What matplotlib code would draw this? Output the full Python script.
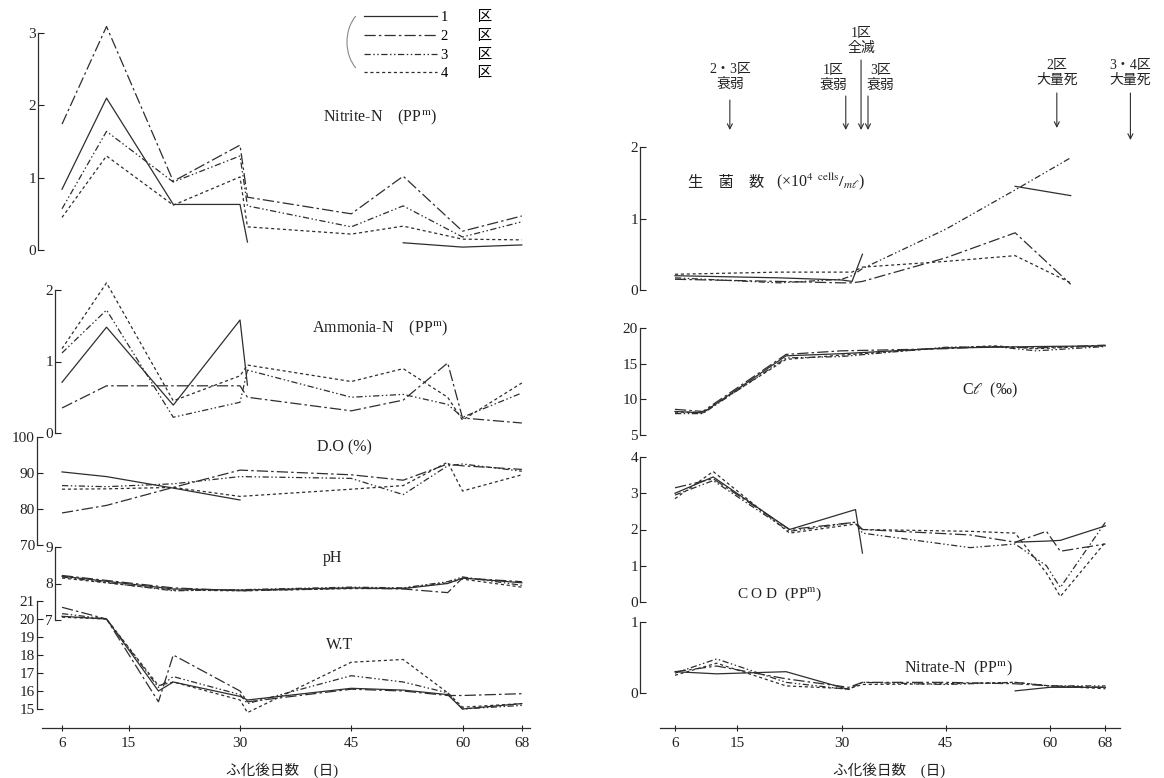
import numpy as np
import matplotlib
matplotlib.use('Agg')
import matplotlib.pyplot as plt
from matplotlib.lines import Line2D
from matplotlib.patches import Arc
from matplotlib.transforms import IdentityTransform, blended_transform_factory

plt.rcParams['font.family'] = ['Liberation Serif', 'Noto Sans CJK JP', 'DejaVu Sans']
plt.rcParams['mathtext.fontset'] = 'stix'

nan = np.nan
W, H = 1164, 778
INK = '#2e2e2e'

# ---- 左側 (ふ化後日数) ----
tick_days = [6, 15, 30, 45, 60, 68]

nitrite_days = [6, 12, 21, 30, 31, 45, 52, 60, 68]
nitrite_1 = [0.84, 2.10, 0.63, 0.63, 0.11, nan, 0.10, 0.04, 0.07]
nitrite_2 = [1.74, 3.09, 0.95, 1.45, 0.73, 0.50, 1.02, 0.26, 0.47]
nitrite_3 = [0.57, 1.64, 0.94, 1.30, 0.61, 0.32, 0.61, 0.18, 0.39]
nitrite_4 = [0.45, 1.30, 0.62, 1.01, 0.32, 0.22, 0.33, 0.15, 0.14]

ammonia_days = [6, 12, 21, 30, 31, 45, 52, 58, 60, 68]
ammonia_1 = [0.71, 1.48, 0.39, 1.58, 0.67, nan, nan, nan, nan, nan]
ammonia_2 = [0.35, 0.66, 0.66, 0.66, 0.50, 0.31, 0.46, 0.98, 0.21, 0.14]
ammonia_3 = [1.12, 1.72, 0.22, 0.43, 0.88, 0.50, 0.54, 0.40, 0.22, 0.56]
ammonia_4 = [1.18, 2.10, 0.45, 0.80, 0.95, 0.72, 0.90, 0.50, 0.18, 0.70]

do_days = [6, 12, 21, 30, 45, 52, 58, 60, 68]
do_1 = [90.3, 89.0, 85.8, 82.5, nan, nan, nan, nan, nan]
do_2 = [78.9, 81.0, 86.0, 90.8, 89.5, 88.0, 92.5, 92.0, 91.0]
do_3 = [86.5, 86.2, 87.0, 89.0, 88.5, 84.0, 92.0, 92.5, 90.5]
do_4 = [85.5, 85.6, 86.0, 83.5, 85.5, 86.5, 93.0, 85.0, 89.5]

ph_days = [6, 21, 30, 45, 52, 58, 60, 68]
ph_1 = [8.20, 7.85, 7.82, 7.88, 7.86, 8.00, 8.15, 8.02]
ph_2 = [8.22, 7.88, 7.80, 7.87, 7.85, 7.75, 8.15, 8.05]
ph_3 = [8.18, 7.80, 7.83, 7.90, 7.88, 8.05, 8.18, 7.95]
ph_4 = [8.15, 7.82, 7.80, 7.86, 7.87, 8.02, 8.12, 7.90]

wt_days = [6, 12, 19, 21, 30, 31, 45, 52, 58, 60, 68]
wt_1 = [20.15, 20.0, 16.0, 16.5, 15.7, 15.5, 16.15, 16.05, 15.8, 15.0, 15.3]
wt_2 = [20.65, 20.0, 15.4, 18.0, 16.0, 15.4, 16.10, 16.00, 15.75, 15.75, 15.85]
wt_3 = [20.3, 20.0, 16.2, 16.8, 15.8, 15.3, 16.85, 16.5, 15.9, 15.0, 15.2]
wt_4 = [20.1, 20.0, 16.3, 16.5, 15.5, 14.8, 17.6, 17.75, 15.9, 15.1, 15.3]

# ---- 右側 ----
bact_days = [6, 21, 30, 31.5, 33, 45, 55, 63]
bact_1 = [0.20, 0.17, 0.14, 0.12, 0.50, nan, 1.45, 1.32]
bact_2 = [0.15, 0.12, 0.10, 0.10, 0.12, 0.45, 0.80, 0.08]
bact_3 = [0.17, 0.10, 0.15, 0.20, 0.30, 0.85, 1.40, 1.85]
bact_4 = [0.22, 0.25, 0.25, 0.25, 0.32, 0.40, 0.48, 0.10]

cl_days = [6, 10, 22, 30, 45, 52, 58, 68]
cl_1 = [8.3, 8.1, 16.1, 16.4, 17.2, 17.3, 17.4, 17.5]
cl_2 = [8.6, 8.3, 16.3, 16.8, 17.1, 17.4, 17.2, 17.6]
cl_3 = [8.0, 8.0, 15.8, 16.0, 17.3, 17.4, 16.8, 17.4]
cl_4 = [8.2, 8.2, 15.6, 16.2, 17.2, 17.5, 17.1, 17.5]

cod_days = [6, 11.5, 22.5, 32, 33, 48.5, 55, 59.5, 61.5, 68]
cod_1 = [3.00, 3.45, 2.00, 2.55, 1.35, nan, 1.65, 1.68, 1.70, 2.10]
cod_2 = [3.15, 3.40, 2.00, 2.20, 2.00, 1.85, 1.65, 1.95, 1.40, 1.60]
cod_3 = [2.95, 3.35, 1.95, 2.20, 1.90, 1.50, 1.60, 1.00, 0.40, 2.20]
cod_4 = [2.85, 3.60, 1.90, 2.15, 2.00, 1.95, 1.90, 0.80, 0.15, 1.65]

nitrate_days = [6, 12, 22, 31, 33, 45, 55, 60, 68]
nitrate_1 = [0.30, 0.27, 0.30, 0.05, nan, nan, 0.03, 0.08, 0.08]
nitrate_2 = [0.30, 0.38, 0.20, 0.08, 0.15, 0.15, 0.13, 0.10, 0.08]
nitrate_3 = [0.28, 0.48, 0.15, 0.05, 0.15, 0.12, 0.15, 0.10, 0.10]
nitrate_4 = [0.25, 0.42, 0.10, 0.06, 0.12, 0.13, 0.15, 0.10, 0.06]

# 斃死・衰弱の記録 (日, 注記)
event_days = [13.9, 30.6, 32.8, 33.8, 61.0, 71.6]
event_labels = ['2・3区\n衰弱', '1区\n衰弱', '1区\n全滅', '3区\n衰弱',
                '2区\n大量死', '3・4区\n大量死']

styles = ['-', (0, (9, 2.5, 2, 2.5)), (0, (5, 2, 1.2, 2, 1.2, 2)), (0, (2.5, 2.2))]
area_names = ['1', '2', '3', '4']

fig = plt.figure(figsize=(W / 100, H / 100), dpi=100)
fig.patch.set_facecolor('white')


def box(x0, y0, x1, y1):
    # pixel box -> figure fraction
    return [x0 / W, 1 - y1 / H, (x1 - x0) / W, (y1 - y0) / H]


def ftext(x, y, s, **kw):
    kw.setdefault('fontsize', 10.5)
    kw.setdefault('color', '#222')
    kw.setdefault('ha', 'center')
    kw.setdefault('va', 'center')
    return fig.text(x / W, 1 - y / H, s, **kw)


def panel(x0, x1, y_top, y_bot, xlim, ylim, yticks, spine_px, days, series):
    ax = fig.add_axes(box(x0, y_top, x1, y_bot))
    ax.patch.set_alpha(0)
    ax.set_xlim(xlim)
    ax.set_ylim(ylim)
    for s in ['top', 'right', 'bottom']:
        ax.spines[s].set_visible(False)
    ax.spines['left'].set_position(('axes', (spine_px - x0) / (x1 - x0)))
    ax.spines['left'].set_linewidth(0.9)
    ax.spines['left'].set_color(INK)
    ax.set_xticks([])
    ax.set_yticks(yticks)
    ax.tick_params(axis='y', direction='in', length=4, width=0.8, pad=1.5,
                   labelsize=11, colors='#222')
    for vals, st in zip(series, styles):
        ax.plot(days, vals, ls=st, color=INK, lw=0.9, clip_on=False)
    return ax


def bottom_axis(x0, x1, y, xlim):
    ax = fig.add_axes(box(x0, y - 10, x1, y))
    ax.patch.set_alpha(0)
    ax.set_xlim(xlim)
    for s in ['top', 'right', 'left']:
        ax.spines[s].set_visible(False)
    ax.spines['bottom'].set_linewidth(0.9)
    ax.spines['bottom'].set_color(INK)
    ax.set_yticks([])
    ax.set_xticks(tick_days)
    ax.tick_params(axis='x', direction='inout', length=5, width=0.8, pad=4,
                   labelsize=11, colors='#222')
    return ax


# 左列
LX = (42, 530)
LLIM = (3.3, 69.1)
panel(*LX, 33, 250, LLIM, (0, 3), [0, 1, 2, 3], 38, nitrite_days,
      [nitrite_1, nitrite_2, nitrite_3, nitrite_4])
panel(*LX, 290, 433, LLIM, (0, 2), [0, 1, 2], 55, ammonia_days,
      [ammonia_1, ammonia_2, ammonia_3, ammonia_4])
panel(*LX, 437, 545, LLIM, (70, 100), [70, 80, 90, 100], 37, do_days,
      [do_1, do_2, do_3, do_4])
panel(*LX, 547, 620, LLIM, (7, 9), [7, 8, 9], 55, ph_days,
      [ph_1, ph_2, ph_3, ph_4])
panel(*LX, 601, 709, LLIM, (15, 21), list(range(15, 22)), 37, wt_days,
      [wt_1, wt_2, wt_3, wt_4])
bottom_axis(*LX, 728, LLIM)

# 右列
RX = (660, 1120)
RLIM = (3.84, 70.1)
ax_b = panel(*RX, 147, 290, RLIM, (0, 2), [0, 1, 2], 640, bact_days,
             [bact_1, bact_2, bact_3, bact_4])
panel(*RX, 328, 435, RLIM, (5, 20), [5, 10, 15, 20], 640, cl_days,
      [cl_1, cl_2, cl_3, cl_4])
panel(*RX, 457, 602, RLIM, (0, 4), [0, 1, 2, 3, 4], 640, cod_days,
      [cod_1, cod_2, cod_3, cod_4])
panel(*RX, 622, 693, RLIM, (0, 1), [0, 1], 640, nitrate_days,
      [nitrate_1, nitrate_2, nitrate_3, nitrate_4])
bottom_axis(*RX, 728, RLIM)

# 項目名
ftext(380, 117, 'Nitrite-N    (PP$^{\\mathrm{m}}$)', fontsize=11.5)
ftext(380, 328, 'Ammonia-N    (PP$^{\\mathrm{m}}$)', fontsize=11.5)
ftext(344, 447, 'D.O (%)', fontsize=11.5)
ftext(333, 558, 'pH', fontsize=11.5)
ftext(340, 645, 'W.T', fontsize=11.5)
ftext(726, 183, '生　菌　数', fontsize=11)
ftext(820, 182, '(×10$^{4}$ $^{\\mathrm{cells}}/_{m\\ell}$)', fontsize=11.5)
ftext(990, 390, 'C$\\ell$  (‰)', fontsize=11.5)
ftext(780, 594, 'C O D  (PP$^{\\mathrm{m}}$)', fontsize=11)
ftext(958, 668, 'Nitrate-N  (PP$^{\\mathrm{m}}$)', fontsize=11.5)
ftext(282, 770, 'ふ化後日数　(日)')
ftext(889, 770, 'ふ化後日数　(日)')

# 凡例
handles = [Line2D([0], [0], ls=st, color=INK, lw=0.9) for st in styles]
fig.legend(handles, [f'{n}　　区' for n in area_names], loc='upper left',
           bbox_to_anchor=(364 / W, 1 - 11 / H), frameon=False, fontsize=10.5,
           handlelength=5.0, handletextpad=0.3, labelspacing=0.38,
           borderpad=0, borderaxespad=0)
fig.add_artist(Arc((372, H - 42), 50, 68, theta1=122, theta2=238,
                   transform=IdentityTransform(), color='#888', lw=0.8))

# 注記と矢印
text_y = [77, 78, 41, 78, 73, 73]
arrow_from = [100, 96, 60, 96, 93, 93]
arrow_to = [130, 130, 130, 130, 128, 140]
text_dx = [0, -1.8, 0, 1.8, 0, 0]
trans = blended_transform_factory(ax_b.transData, fig.transFigure)
for day, txt, ty, a0, a1, dx in zip(event_days, event_labels, text_y,
                                    arrow_from, arrow_to, text_dx):
    ax_b.annotate('', xy=(day, 1 - a1 / H), xycoords=trans,
                  xytext=(day, 1 - a0 / H), textcoords=trans,
                  arrowprops=dict(arrowstyle='->', lw=0.8, color=INK,
                                  shrinkA=0, shrinkB=0, mutation_scale=9),
                  annotation_clip=False)
    ax_b.text(day + dx, 1 - ty / H, txt, transform=trans, ha='center',
              va='center', fontsize=10, color='#222', linespacing=1.15)

fig.savefig('out.png', dpi=100, facecolor='white')
